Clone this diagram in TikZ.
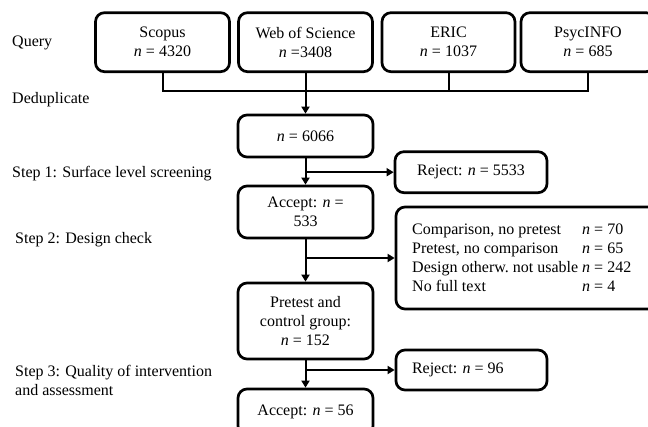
\documentclass[tikz,border=0pt]{standalone}
\usepackage{fontspec}
\setmainfont{Liberation Serif}
\usetikzlibrary{arrows.meta}
\begin{document}
\begin{tikzpicture}[x=1pt,y=-1pt,
  every node/.style={font=\fontsize{16}{19}\selectfont},
  box/.style={draw, line width=2.7pt, rounded corners=9pt, align=center, inner sep=2pt},
  lbl/.style={anchor=west, inner sep=0pt, align=left},
  conn/.style={line width=2pt},
  arr/.style={line width=2pt, -{Triangle[length=7pt,width=8pt]}}]
\useasboundingbox (0,0) rectangle (648,427);
% left labels
\node[lbl] (lq) at (12,43) {Query};
\node[lbl] (ld) at (12,100) {Deduplicate};
\node[lbl] (l1) at (12,174) {Step 1: Surface level screening};
\node[lbl] (l2) at (15,240) {Step 2: Design check};
\node[lbl] (l3) at (15,380) {Step 3: Quality of intervention\\and assessment};
% source boxes
\node[box, minimum width=134, minimum height=59] (scopus) at (162.5,42.2) {Scopus\\\textit{n} = 4320};
\node[box, minimum width=134, minimum height=59] (wos) at (305.5,42.2) {Web of Science\\\textit{n} =3408};
\node[box, minimum width=133, minimum height=59] (eric) at (448.5,42.2) {ERIC\\\textit{n} = 1037};
\node[box, minimum width=134, minimum height=59] (psyc) at (588,42.2) {PsycINFO\\\textit{n} = 685};
% main column
\node[box, minimum width=135, minimum height=42] (all) at (305.5,136) {\textit{n} = 6066};
\node[box, minimum width=152, minimum height=41] (rej1) at (471,172.2) {Reject: \textit{n} = 5533};
\node[box, minimum width=135, minimum height=52] (acc1) at (305.5,212) {Accept: \textit{n} =\\533};
\node[box, minimum width=264, minimum height=102] (design) at (528,258) {};
\node[anchor=west, inner sep=0pt] (designtext) at (412,259.5) {%
  \begin{tabular}{@{}l@{\hspace{4pt}}l@{}}
  Comparison, no pretest & \textit{n} = 70\\
  Pretest, no comparison & \textit{n} = 65\\
  Design otherw.\ not usable & \textit{n} = 242\\
  No full text & \textit{n} = 4
  \end{tabular}};
\node[box, minimum width=135, minimum height=76] (pre) at (305.5,321) {Pretest and\\control group:\\\textit{n} = 152};
\node[box, minimum width=151, minimum height=40] (rej2) at (471.5,370) {\makebox[119pt][l]{Reject: \textit{n} = 96}};
\node[box, minimum width=135, minimum height=46] (acc2) at (305.5,412) {\raisebox{2pt}{Accept: \textit{n} = 56}};
% connectors
\coordinate (bus) at (0,91);
\draw[conn] (scopus.south) -- (scopus.south |- bus) -- (psyc.south |- bus) -- (psyc.south);
\draw[conn] (eric.south) -- (eric.south |- bus);
\draw[arr] (wos.south) -- (all.north);
\draw[arr] (all.south) -- (acc1.north);
\draw[arr] (all.south |- rej1.west) -- (rej1.west);
\draw[arr] (acc1.south) -- (pre.north);
\draw[arr] (acc1.south |- design.west) -- (design.west);
\draw[arr] (pre.south) -- (acc2.north);
\draw[arr] (pre.south |- rej2.west) -- (rej2.west);
\end{tikzpicture}
\end{document}
